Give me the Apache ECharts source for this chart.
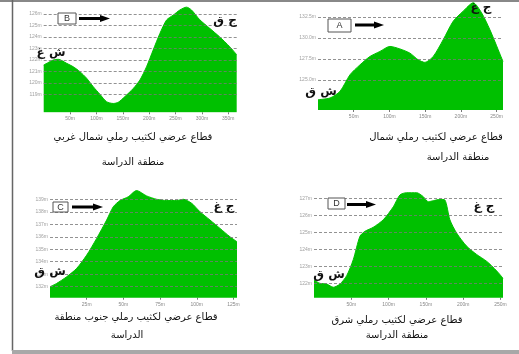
<!DOCTYPE html>
<html>
<head>
<meta charset="utf-8">
<script src="https://cdn.jsdelivr.net/npm/echarts@6/dist/echarts.min.js"></script>
<style>
  html, body { margin: 0; padding: 0; background: #fff; }
  #chart { width: 519px; height: 354px; }
</style>
</head>
<body>
<div id="chart"></div>
<script>
// Cross-section profiles of four sand dunes (distance in m, elevation in m)

// B: north-west dune
const distB = [0, 18.2, 27.7, 43.6, 56.1, 68.8, 81.4, 94, 106.6, 119.3, 131.9, 141.3, 154, 169.7, 182.4, 195, 207.6, 220.3, 233, 245.5, 258.1, 270.8, 280.3, 296, 314.9, 333.8, 352.8, 366];
const elevB = [121.55, 121.99, 122.05, 121.7, 121.4, 120.97, 120.4, 119.66, 119.0, 118.35, 118.2, 118.3, 118.8, 119.5, 120.24, 121.4, 122.86, 124.3, 125.48, 125.9, 126.35, 126.6, 126.35, 125.5, 124.75, 124.0, 123.15, 122.45];
const xTicksB = [50, 100, 150, 200, 250, 300, 350];
const yTicksB = [119, 120, 121, 122, 123, 124, 125, 126];

// A: north dune
const distA = [0, 16.8, 30.8, 44.8, 58.7, 72.7, 86.7, 100.7, 114.7, 128.7, 140.3, 149.7, 161.3, 175.3, 189.3, 203.3, 217.3, 229, 240.6, 252.3, 259];
const elevA = [122.66, 122.86, 123.65, 125.63, 126.8, 127.8, 128.4, 129.0, 128.7, 128.2, 127.4, 127.1, 127.8, 129.8, 132.0, 133.2, 134.2, 133.0, 131.0, 128.6, 127.2];
const xTicksA = [50, 100, 150, 200, 250];
const yTicksA = [125, 127.5, 130, 132.5];

// C: south dune
const distC = [0, 4.5, 11.4, 18.2, 25, 31.8, 38.6, 43.1, 47.7, 53.3, 59, 65.8, 72.7, 79.5, 86.3, 90.8, 96.5, 102.2, 109, 115.8, 122.6, 127.4];
const elevC = [132.0, 132.26, 132.8, 133.47, 134.53, 135.87, 137.34, 138.4, 138.9, 139.2, 139.7, 139.27, 139.0, 138.9, 138.9, 139.0, 138.68, 138.0, 137.34, 136.67, 136.0, 135.6];
const xTicksC = [25, 50, 75, 100, 125];
const yTicksC = [132, 133, 134, 135, 136, 137, 138, 139];

// D: east dune
const distD = [0, 8, 17, 25.9, 34.8, 43.8, 52.7, 61.6, 68.3, 79.5, 92.9, 106.3, 115.2, 124.2, 137.6, 146.5, 153.2, 159.9, 168.8, 175.5, 182.2, 191.2, 204.6, 218, 231.4, 244.8, 253.4];
const elevD = [122.2, 122.0, 121.96, 121.77, 121.96, 122.45, 123.4, 124.77, 125.06, 125.3, 125.74, 126.5, 127.2, 127.33, 127.33, 127.1, 126.8, 126.86, 126.94, 126.9, 125.74, 124.96, 124.19, 123.7, 123.3, 122.74, 122.3];
const xTicksD = [50, 100, 150, 200, 250];
const yTicksD = [122, 123, 124, 125, 126, 127];

const GREEN = '#00c000';
const ARABIC = "'DejaVu Sans', 'Noto Sans', sans-serif";

// panel frames: grid box, axis extents
const panels = [
  { dist: distB, elev: elevB, xt: xTicksB, yt: yTicksB, step: 50, grid: { left: 43.7, top: 6, width: 193, height: 106.3 }, xmax: 366, ymin: 117.43, ymax: 126.7, fmt: v => v + 'm' },
  { dist: distA, elev: elevA, xt: xTicksA, yt: yTicksA, step: 50, grid: { left: 318, top: 1.9, width: 185, height: 108.1 }, xmax: 259, ymin: 121.43, ymax: 134.3, fmt: v => v.toFixed(1) + 'm' },
  { dist: distC, elev: elevC, xt: xTicksC, yt: yTicksC, step: 25, grid: { left: 50, top: 189.3, width: 187, height: 108.4 }, xmax: 127.4, ymin: 131.12, ymax: 139.8, fmt: v => v + 'm' },
  { dist: distD, elev: elevD, xt: xTicksD, yt: yTicksD, step: 50, grid: { left: 314, top: 190.7, width: 189, height: 107.1 }, xmax: 253.4, ymin: 121.15, ymax: 127.45, fmt: v => v + 'm' }
];

const grid = [], xAxis = [], yAxis = [], series = [];
panels.forEach((p, i) => {
  grid.push(Object.assign({ containLabel: false }, p.grid));
  xAxis.push({
    type: 'value', gridIndex: i, min: 0, max: p.xmax, interval: p.step,
    axisLine: { show: false },
    axisTick: { show: true, length: 2, lineStyle: { color: '#777', width: 1 }, customValues: p.xt },
    axisLabel: {
      fontSize: 5, color: '#888', margin: 4, customValues: p.xt,
      formatter: v => (p.xt.indexOf(v) >= 0 ? v + 'm' : '')
    },
    splitLine: { show: false }
  });
  yAxis.push({
    type: 'value', gridIndex: i, min: p.ymin, max: p.ymax,
    axisLine: { show: false }, axisTick: { show: false },
    axisLabel: { show: false }, splitLine: { show: false }
  });
  series.push({
    type: 'line', xAxisIndex: i, yAxisIndex: i,
    data: p.dist.map((d, k) => [d, p.elev[k]]),
    smooth: 0.25, symbol: 'none',
    lineStyle: { color: GREEN, width: 1 },
    areaStyle: { color: GREEN, opacity: 1, origin: 'start' },
    markLine: {
      silent: true, symbol: ['none', 'none'], animation: false,
      lineStyle: { color: '#777', width: 1, type: [3, 2], opacity: 0.8 },
      label: { show: true, position: 'start', distance: 2, fontSize: 5, color: '#888', formatter: q => p.fmt(q.value) },
      data: p.yt.map(v => ({ yAxis: v }))
    }
  });
});

// boxed section letter followed by a direction arrow
function sectionTag(letter, bx, by, bw, bh, ax1, ax2, ay) {
  return [
    { type: 'rect', shape: { x: bx, y: by, width: bw, height: bh }, style: { fill: '#fff', stroke: '#555', lineWidth: 1 }, z: 10 },
    { type: 'text', style: { text: letter, x: bx + bw / 2, y: by + bh / 2 + 0.5, align: 'center', verticalAlign: 'middle', font: '9px Arial, sans-serif', fill: '#333' }, z: 11 },
    { type: 'line', shape: { x1: ax1, y1: ay, x2: ax2 - 8, y2: ay }, style: { stroke: '#000', lineWidth: 3 }, z: 10 },
    { type: 'polygon', shape: { points: [[ax2 - 10, ay - 3.5], [ax2, ay], [ax2 - 10, ay + 3.5]] }, style: { fill: '#000' }, z: 10 }
  ];
}
function dirLabel(text, x, y) {
  return { type: 'text', style: { text: text, x: x, y: y, align: 'center', verticalAlign: 'middle', font: 'bold 12px ' + ARABIC, fill: '#111' }, z: 12 };
}
function caption(text, x, y) {
  return { type: 'text', style: { text: text, x: x, y: y, align: 'center', verticalAlign: 'middle', font: '10px ' + ARABIC, fill: '#111' }, z: 12 };
}

const graphic = [
  // page frame
  { type: 'line', shape: { x1: 0, y1: 1, x2: 519, y2: 1 }, style: { stroke: '#888', lineWidth: 2 } },
  { type: 'line', shape: { x1: 12.5, y1: 0, x2: 12.5, y2: 351 }, style: { stroke: '#666', lineWidth: 1.5 } },
  { type: 'rect', shape: { x: 12, y: 350, width: 507, height: 4 }, style: { fill: '#a8a8a8' } },

  ...sectionTag('B', 58, 13, 18, 11, 79, 110, 18.5),
  ...sectionTag('A', 328, 19, 23, 13, 355, 384, 25),
  ...sectionTag('C', 53, 202, 15, 10, 72, 103, 207),
  ...sectionTag('D', 328, 198, 17, 11, 347, 376, 204.5),

  dirLabel('ش غ', 51, 53),
  dirLabel('ج ق', 225, 21),
  dirLabel('ش ق', 321, 92),
  dirLabel('ج غ', 481, 8),
  dirLabel('ش ق', 50, 272),
  dirLabel('ج غ', 224, 207),
  dirLabel('ش ق', 329, 275),
  dirLabel('ج غ', 484, 207),

  caption('قطاع عرضي لكثيب رملي شمال غربي', 133, 137),
  caption('منطقة الدراسة', 133, 162),
  caption('قطاع عرضي لكثيب رملي شمال', 436, 137),
  caption('منطقة الدراسة', 458, 157),
  caption('قطاع عرضي لكثيب رملي جنوب منطقة', 136, 317),
  caption('الدراسة', 127, 335),
  caption('قطاع عرضي لكثيب رملي شرق', 397, 320),
  caption('منطقة الدراسة', 397, 335)
];

const chart = echarts.init(document.getElementById('chart'), null, { renderer: 'canvas' });
chart.setOption({
  animation: false,
  backgroundColor: '#fff',
  grid, xAxis, yAxis, series, graphic
});
</script>
</body>
</html>
